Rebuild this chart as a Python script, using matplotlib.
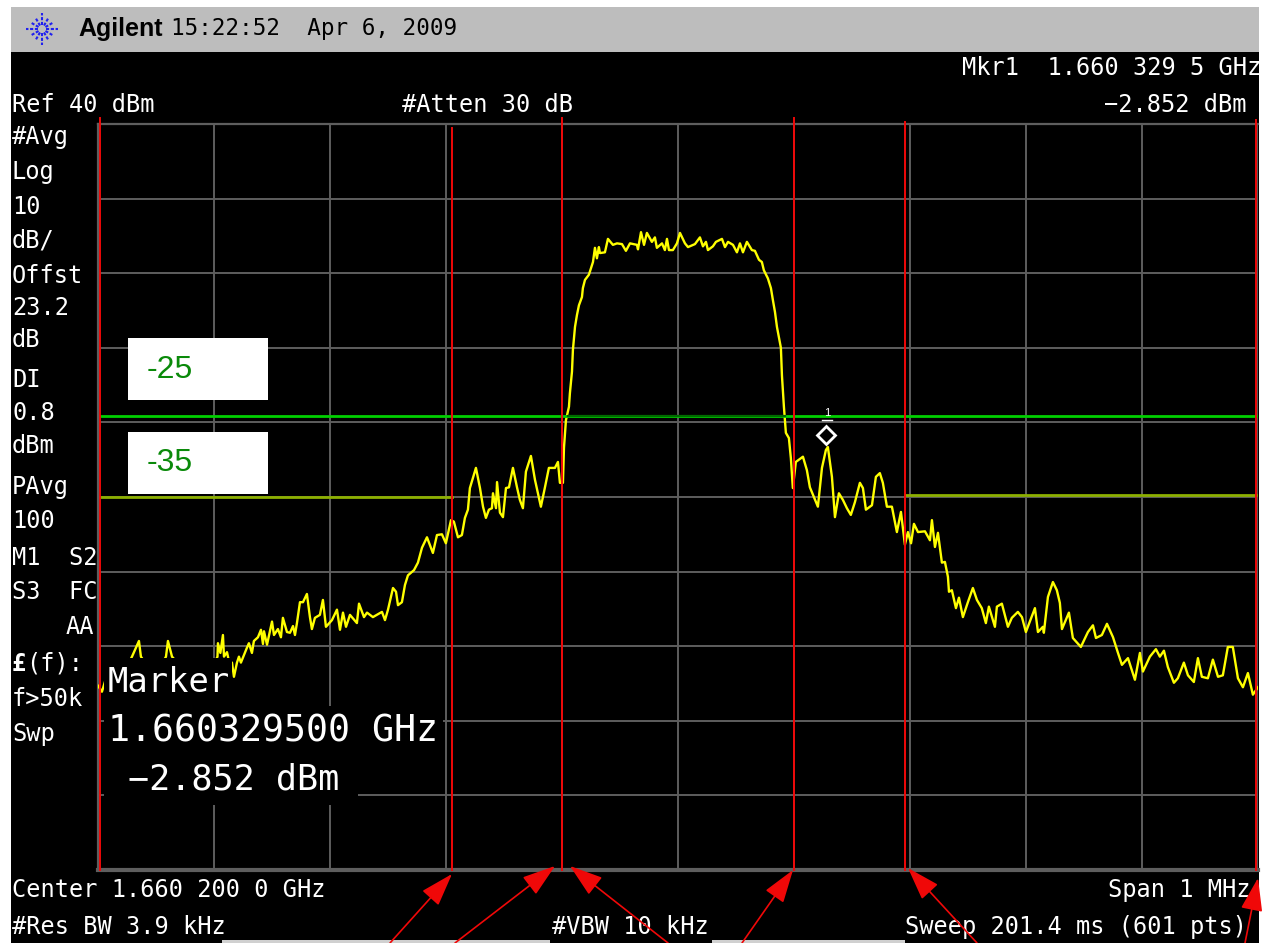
import numpy as np
import matplotlib
matplotlib.use('Agg')
import matplotlib.pyplot as plt
from matplotlib.patches import Rectangle

# Trace: offset from start of span (kHz) and level (dBm)
freq_khz = [
    0, 3.4, 6.9, 8.6, 14.6, 23.3, 29.3, 35.3, 37.0, 44.8, 53.4, 58.6, 60.3, 63.8, 75, 88, 100, 103.0, 103.4, 105.5,
    107.7, 108.6, 111.2, 113.0, 115.5, 117.2, 119.8, 121.5, 123.2, 128.4, 130.1, 132.7, 134.4, 137.9, 140.5, 142.2,
    143.1, 145.7, 150.0, 151.7, 155.1, 157.7, 159.4, 162.9, 165.5, 168.1, 169.8, 171.5, 174.1, 176.7, 180.1, 182.7,
    184.4, 187.0, 191.3, 193.9, 196.5, 201.7, 206.0, 208.6, 211.2, 213.8, 217.2, 223.2, 225.0, 229.3, 231.9, 237.0,
    244.8, 247.4, 250.0, 254.3, 256.9, 258.6, 262.0, 264.6, 267.2, 272.4, 275.8, 279.3, 283.6, 288.7, 292.2, 296.5,
    299.9, 304.3, 306.8, 310.3, 313.7, 316.3, 318.9, 320.6, 325.8, 329.3, 331.9, 334.4, 337.0, 339.6, 340.5, 343.1,
    344.0, 346.5, 349.1, 351.7, 354.3, 357.7, 361.2, 363.7, 366.3, 368.9, 373.2, 376.7, 381.8, 385.3, 388.7, 393.9,
    396.5, 398.2, 400.8, 401.7, 403.4, 406.0, 406.8, 408.6, 409.4, 411.2, 412.9, 414.6, 417.2, 418.0, 419.8, 423.2,
    426.7, 428.4, 430.1, 431.8, 432.7, 437, 439.6, 443.9, 447.4, 451.7, 455.1, 458.6, 464.6, 465.5, 468.1, 470.7,
    473.2, 477.5, 480.1, 481.8, 486.2, 488.7, 490.5, 492.2, 495.6, 499.1, 501.7, 506, 508.6, 514.6, 518.9, 521.5,
    524.1, 525.8, 530.1, 532.7, 537.9, 540.5, 543.1, 547.4, 550.8, 553.4, 556, 559.4, 563.7, 566.3, 569.8, 572.3,
    574, 577.5, 580.1, 581.8, 583.6, 585.3, 587, 588.7, 589.6, 591.3, 593, 595.6, 597.3, 599, 601.6, 607.7,
    611.1, 613.7, 617.2, 620.6, 624.1, 627.5, 629.2, 632.7, 635.3, 638.7, 642.2, 645.6, 649, 652.5, 656.8, 659.4,
    662, 667.2, 670.6, 674, 676.6, 680.1, 684.4, 688.7, 692.2, 695.6, 698.2, 700.9, 703.4, 706.9, 712.9, 717.2,
    718.9, 721.5, 724.1, 727.5, 730.1, 732.7, 733.6, 736.1, 739.6, 742.2, 745.6, 749.9, 754.2, 757.7, 761.9, 765.4,
    768, 773.2, 774.9, 779.2, 784.4, 787.8, 793, 796.5, 799.9, 807.7, 810.3, 814.6, 815.4, 818.9, 823.2, 826.6,
    829.2, 831, 837, 840.4, 847.3, 853.4, 857.7, 860.3, 865.4, 869.8, 875, 879.3, 882.7, 887.9, 893.9, 898.2,
    900.8, 906.8, 912, 915.4, 918.9, 922.3, 927.5, 930.9, 936.1, 939.6, 944.7, 948.2, 951.6, 956.8, 961.1, 965.5,
    969.7, 974, 978.3, 982.7, 987, 991.3, 995.6, 1000,
]
level_dbm = [
    -35.3, -36.1, -34.3, -36.7, -34.5, -33.2, -31.4, -29.3, -31.4, -33.2, -32.9, -31.4, -29.3, -31.4, -33.4, -32.9, -32.4, -31.4, -29.6, -30.9,
    -28.5, -31.4, -30.8, -32.1, -32.2, -34.1, -32.2, -31.4, -32.2, -30.2, -29.6, -30.9, -29.3, -28.8, -27.8, -29.7,
    -28.0, -29.8, -26.7, -28.5, -27.7, -28.8, -26.2, -28.1, -28.2, -27.3, -28.5, -26.9, -24.1, -24.1, -23.0, -26.1,
    -27.7, -26.2, -25.8, -23.8, -27.4, -26.5, -25.1, -27.8, -25.5, -27.4, -25.8, -26.9, -24.3, -26.1, -25.5, -26.1,
    -25.4, -26.5, -25.1, -22.2, -22.7, -24.5, -24.1, -21.8, -20.5, -19.8, -18.8, -16.8, -15.4, -17.5, -15.1, -15.0,
    -16.2, -13.1, -13.3, -15.4, -15.1, -12.8, -11.7, -8.8, -6.1, -8.8, -11.3, -12.8, -11.7, -11.5, -9.5, -11.5,
    -8.0, -12.1, -12.7, -8.8, -8.7, -6.1, -8.7, -10.4, -11.5, -6.6, -4.5, -7.7, -11.3, -8.7, -6.1, -6.1,
    -5.3, -8.1, -8.1, -3.4, 0.3, 2.1, 3.9, 6.8, 9.7, 12.8, 14.4, 15.7, 16.8, 18.0, 19.1, 19.8,
    21.5, 23.4, 22.0, 23.5, 22.7, 22.8, 24.6, 23.8, 24.0, 23.9, 23.0, 24.0, 23.8, 23.2, 25.5, 23.8,
    25.4, 24.2, 24.8, 23.4, 24.0, 23.1, 24.6, 23.1, 23.1, 24.0, 25.4, 24.0, 23.5, 23.9, 24.8, 23.6,
    24.2, 23.1, 23.6, 24.2, 24.6, 23.5, 24.2, 23.8, 22.8, 24.0, 22.8, 24.2, 23.1, 23.0, 21.8, 21.5,
    20.4, 19.3, 18.0, 16.4, 14.8, 12.8, 11.4, 10.0, 6.3, 2.1, -1.4, -2.1, -4.8, -8.8, -5.3, -4.6,
    -6.4, -8.7, -10.0, -11.3, -6.1, -3.7, -3.3, -7.3, -12.7, -9.5, -10.4, -11.5, -12.4, -10.7, -8.1, -8.8,
    -11.7, -11.1, -7.3, -6.8, -8.1, -11.3, -11.3, -14.7, -12.0, -16.4, -14.7, -16.2, -13.6, -14.7, -14.6, -15.8,
    -13.1, -16.7, -14.8, -18.8, -18.7, -20.7, -22.7, -22.5, -24.9, -23.5, -26.1, -24.1, -22.2, -23.8, -24.9, -26.9,
    -24.7, -27.4, -24.7, -24.3, -27.4, -26.2, -25.4, -26.1, -28.1, -24.9, -28.1, -27.4, -28.2, -23.4, -21.4, -22.5,
    -24.2, -27.7, -25.5, -28.9, -30.1, -28.1, -27.2, -28.9, -28.5, -27.0, -28.8, -30.9, -32.5, -31.6, -34.5, -30.9,
    -33.4, -31.4, -30.4, -31.4, -30.6, -32.8, -34.9, -34.3, -32.2, -33.9, -34.8, -31.6, -34.1, -34.3, -31.8, -34.1,
    -33.9, -30.1, -30.1, -34.3, -35.5, -33.6, -36.5, -35.5,
]

# Band edge cursors (kHz) and how far above the top of the graticule they poke (dBm)
cursor_khz = [2, 305, 400, 600, 696, 998]
cursor_top = [40.8, 39.5, 40.8, 40.8, 40.3, 40.6]

limit_upper = 0.8
limit_lower_left = -10.0
limit_lower_right = -9.7
marker_khz = 628
marker_dbm = -1.7

left_labels = ['#Avg', 'Log', '10', 'dB/', 'Offst', '23.2', 'dB', 'DI', '0.8', 'dBm', 'PAvg', '100', 'M1  S2', 'S3  FC']
left_label_y = [137, 172, 207, 241, 276, 308, 340, 380, 413, 446, 487, 521, 558, 592]

W, H = 1264, 943
fig = plt.figure(figsize=(W / 100, H / 100), dpi=100, facecolor='white')

# Screen background + header, in pixels
bg = fig.add_axes([0, 0, 1, 1], zorder=0)
bg.set_xlim(0, W)
bg.set_ylim(H, 0)
bg.axis('off')
bg.add_patch(Rectangle((11, 52), 1248, 891, fc='black', ec='none'))
bg.add_patch(Rectangle((11, 7), 1248, 45, fc='#bdbdbd', ec='none'))

# Graticule: 10 dB/div, 1 MHz span
ax = fig.add_axes([98 / W, 1 - 870 / H, 1160 / W, 746 / H], zorder=1)
ax.set_facecolor('black')
ax.set_xlim(0, 1000)
ax.set_ylim(-60, 40)
ax.set_xticks(np.arange(0, 1001, 100))
ax.set_yticks(np.arange(-60, 41, 10))
ax.grid(color='#5e5e5e', lw=1.4)
ax.tick_params(length=0, labelbottom=False, labelleft=False)
for side in ax.spines:
    ax.spines[side].set_color('#5e5e5e')
    ax.spines[side].set_linewidth(1.6)
ax.spines['bottom'].set_linewidth(3)
ax.spines['right'].set_visible(False)

ax.plot(freq_khz, level_dbm, color='#ffff00', lw=1.7, zorder=3)

# Limit lines
ax.plot([2, 998], [limit_upper, limit_upper], color='#00d000', lw=2, zorder=4)
ax.plot([405, 592], [limit_upper, limit_upper], color='#006a00', lw=1.6, zorder=4)
ax.plot([2, 305], [limit_lower_left, limit_lower_left], color='#8db000', lw=2, zorder=4)
ax.plot([696, 998], [limit_lower_right, limit_lower_right], color='#8db000', lw=2, zorder=4)

for x, top_db in zip(cursor_khz, cursor_top):
    ax.plot([x, x], [-60, top_db], color='#f00808', lw=1.4, clip_on=False, zorder=5)

ax.plot(marker_khz, marker_dbm, marker='D', ms=9, mfc='black', mec='white', mew=2, zorder=6)

# Everything that sits on top, in pixels
top = fig.add_axes([0, 0, 1, 1], zorder=2)
top.set_xlim(0, W)
top.set_ylim(H, 0)
top.axis('off')
top.patch.set_alpha(0)

mono = 'DejaVu Sans Mono'
fs = 17
top.text(78, 29, 'Agilent', family='Liberation Sans', weight='bold', fontsize=18, color='black', va='center')
top.text(171, 29, '15:22:52  Apr 6, 2009', family=mono, fontsize=16.3, color='black', va='center')

# Agilent spark
for a in np.arange(0, 360, 30):
    r0, r1 = 4, 16 if a % 90 == 0 else 13
    c, s = np.cos(np.radians(a)), np.sin(np.radians(a))
    top.plot([42 + r0 * c, 42 + r1 * c], [29 + r0 * s, 29 + r1 * s], color='#2020f0', lw=1.5, ls=(0, (1.5, 0.8)))

screen_text = [
    (12, 105, 'Ref 40 dBm', 'left'),
    (402, 105, '#Atten 30 dB', 'left'),
    (962, 68, 'Mkr1  1.660 329 5 GHz', 'left'),
    (1247, 105, '\u22122.852 dBm', 'right'),
    (12, 890, 'Center 1.660 200 0 GHz', 'left'),
    (1250, 890, 'Span 1 MHz', 'right'),
    (12, 927, '#Res BW 3.9 kHz', 'left'),
    (552, 927, '#VBW 10 kHz', 'left'),
    (905, 927, 'Sweep 201.4 ms (601 pts)', 'left'),
    (94, 627, 'AA', 'right'),
    (12, 699, 'f>50k', 'left'),
    (12, 734, 'Swp', 'left'),
]
for x, y, s, ha in screen_text:
    top.text(x, y, s, family=mono, fontsize=fs, color='white', va='center', ha=ha)
for s, y in zip(left_labels, left_label_y):
    top.text(12, y, s, family=mono, fontsize=fs, color='white', va='center')
top.text(12, 664, '\u00a3', family=mono, weight='bold', fontsize=fs, color='white', va='center')
top.text(26, 664, '(f):', family=mono, fontsize=fs, color='white', va='center')

# Marker readout blocks out the graticule behind it
for x0, y0, x1, y1 in [(104, 658, 232, 706), (104, 706, 443, 755), (104, 755, 358, 805)]:
    top.add_patch(Rectangle((x0, y0), x1 - x0, y1 - y0, fc='black', ec='none', zorder=2))
top.text(108, 682, 'Marker', family=mono, fontsize=24.3, color='white', va='center', zorder=3)
top.text(108, 731, '1.660329500 GHz', family=mono, fontsize=26.4, color='white', va='center', zorder=3)
top.text(128, 779, '\u22122.852 dBm', family=mono, fontsize=25.3, color='white', va='center', zorder=3)

top.text(827, 413, '1', family='Liberation Sans', fontsize=8, color='white', ha='center', va='center', zorder=3)
top.plot([822, 832], [420, 420], color='white', lw=1)

# Pasted-on annotations
for y0, s, yt in [(338, '-25', 370), (432, '-35', 463)]:
    top.add_patch(Rectangle((128, y0), 140, 62, fc='white', ec='none', zorder=2))
    top.text(147, yt, s, family='Liberation Sans', fontsize=23, color='#0a8a0a', va='center', zorder=3)

arrow_tip = [(452, 874), (555, 866), (570, 866), (793, 870), (908, 868), (1258, 878)]
arrow_tail = [(390, 943), (455, 943), (668, 943), (742, 943), (977, 943), (1245, 943)]
for tip, tail in zip(arrow_tip, arrow_tail):
    top.annotate('', xy=tip, xytext=tail, zorder=4,
                 arrowprops=dict(arrowstyle='-|>,head_length=1.15,head_width=0.38', mutation_scale=18,
                                 color='#f00808', lw=1.2, shrinkA=0, shrinkB=0))

# Slivers of white at the bottom edge
top.add_patch(Rectangle((222, 940), 328, 3, fc='#d0d0d0', ec='none'))
top.add_patch(Rectangle((712, 940), 193, 3, fc='#d0d0d0', ec='none'))

fig.savefig('out.png', dpi=100)
